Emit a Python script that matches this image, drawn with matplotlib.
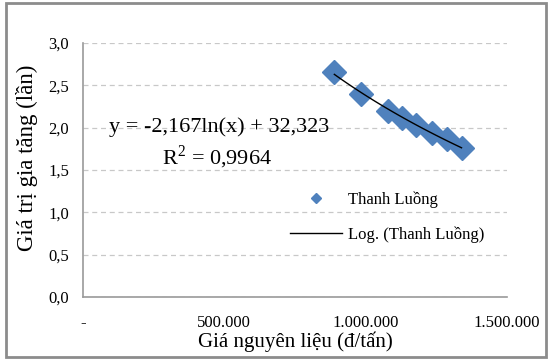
import numpy as np
import matplotlib.pyplot as plt
from matplotlib.patches import Rectangle
from matplotlib.lines import Line2D

# data
gia_nguyen_lieu = [890000, 985000, 1080000, 1130000, 1180000, 1235000, 1290000, 1340000]
gia_tri_gia_tang = [2.65, 2.40, 2.20, 2.11, 2.03, 1.94, 1.86, 1.76]
x_ticks = [0, 500000, 1000000, 1500000]
x_ticklabels = ['-', '500.000', '1.000.000', '1.500.000']
y_ticks = [0.0, 0.5, 1.0, 1.5, 2.0, 2.5, 3.0]
y_ticklabels = ['0,0', '0,5', '1,0', '1,5', '2,0', '2,5', '3,0']
eq_text = 'y = -2,167ln(x) + 32,323'
r2_text = 'R$^2$ = 0,9964'

plt.rcParams['font.family'] = ['Liberation Serif', 'DejaVu Serif']
plt.rcParams['mathtext.fontset'] = 'custom'
plt.rcParams['mathtext.rm'] = 'Liberation Serif'

fig = plt.figure(figsize=(5.52, 3.6), dpi=100)
fig.patches.append(Rectangle((0.010, 0.008), 0.980, 0.984, transform=fig.transFigure,
                             fill=False, edgecolor='#8c8c8c', linewidth=2))
ax = fig.add_axes([0.150, 0.175, 0.768, 0.706])

x = np.array(gia_nguyen_lieu, dtype=float)
y = np.array(gia_tri_gia_tang)
ax.plot(x, y, 'D', color='#4F81BD', markersize=12, zorder=3)

# logarithmic trendline fitted from the points
b, a = np.polyfit(np.log(x), y, 1)
xt = np.linspace(x.min(), x.max(), 100)
ax.plot(xt, a + b * np.log(xt), color='black', linewidth=1, zorder=4)

ax.set_xlim(0, 1500000)
ax.set_ylim(0, 3.0)
ax.set_xticks(x_ticks)
ax.set_xticklabels(x_ticklabels)
ax.set_yticks(y_ticks)
ax.set_yticklabels(y_ticklabels)
ax.tick_params(length=0, labelsize=12, pad=10)
ax.tick_params(axis='x', pad=13)

ax.grid(axis='y', linestyle=(0, (4, 3)), color='#c8c8c8', linewidth=0.9)
ax.set_axisbelow(True)
for s in ['top', 'right']:
    ax.spines[s].set_visible(False)
for s in ['left', 'bottom']:
    ax.spines[s].set_color('#9a9a9a')
    ax.spines[s].set_linewidth(1.2)

ax.set_xlabel('Giá nguyên liệu (đ/tấn)', fontsize=15)
ax.set_ylabel('Giá trị gia tăng (lần)', fontsize=16.5)
ax.xaxis.set_label_coords(0.502, -0.135)
ax.yaxis.set_label_coords(-0.106, 0.547)

ax.text(0.321, 0.669, eq_text, transform=ax.transAxes, ha='center', va='center', fontsize=16)
ax.text(0.316, 0.551, r2_text, transform=ax.transAxes, ha='center', va='center', fontsize=16)

handles = [Line2D([], [], marker='D', color='#4F81BD', linestyle='none', markersize=5.5),
           Line2D([], [], color='black', linewidth=1)]
ax.legend(handles, ['Thanh Luồng', 'Log. (Thanh Luồng)'], loc='center left',
          bbox_to_anchor=(0.454, 0.314), frameon=False, fontsize=12,
          handlelength=3.1, handletextpad=0.36, labelspacing=1.1)

fig.savefig('out.png', dpi=100)
